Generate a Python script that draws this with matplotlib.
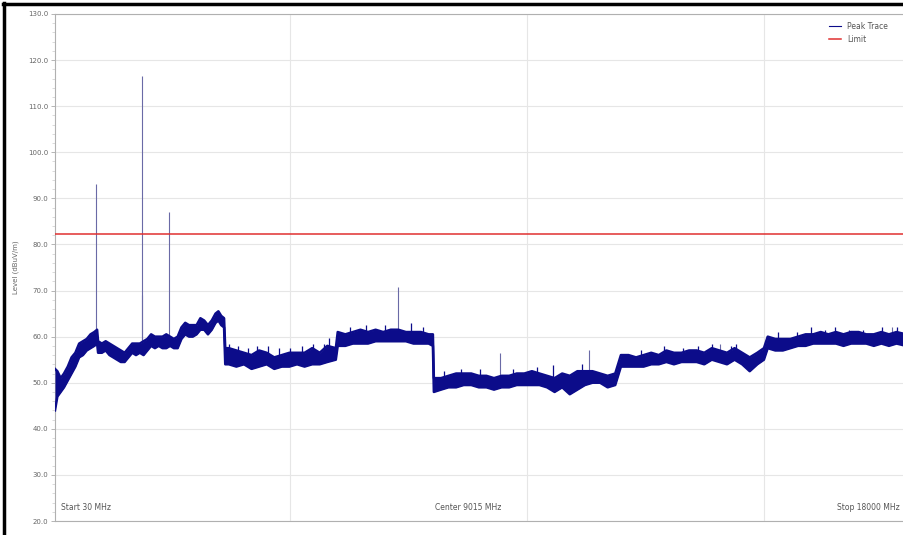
import matplotlib
matplotlib.use("Agg")
import matplotlib.pyplot as plt
from matplotlib.lines import Line2D
from matplotlib.ticker import MultipleLocator, FormatStrFormatter

# peak trace envelope: frequency (MHz), low / high level (dBuV/m)
freq = [30, 80, 150, 220, 300, 380, 460, 540, 620, 700, 780, 860, 919, 940,
        1020, 1100, 1180, 1260, 1340, 1420, 1500, 1580, 1660, 1740, 1820, 1900,
        1980, 2060, 2140, 2220, 2300, 2380, 2460, 2540, 2620, 2700, 2780, 2860,
        2940, 3020, 3100, 3180, 3260, 3340, 3420, 3480, 3540, 3600, 3625,
        3700, 3860, 4020, 4180, 4340, 4500, 4660, 4820, 4980, 5140, 5300, 5460,
        5620, 5780, 5960, 6000, 6160, 6320, 6480, 6640, 6800, 6960, 7120, 7280,
        7440, 7600, 7760, 7920, 8010, 8030, 8180, 8340, 8500, 8660, 8820, 8980,
        9140, 9300, 9460, 9620, 9780, 9940, 10100, 10260, 10420, 10580, 10740,
        10900, 11060, 11220, 11380, 11540, 11700, 11860, 11980, 12140, 12300,
        12460, 12620, 12780, 12940, 13100, 13260, 13420, 13580, 13740, 13900,
        14060, 14220, 14380, 14540, 14700, 14860, 15000, 15080, 15240, 15400,
        15560, 15720, 15880, 16040, 16200, 16360, 16520, 16680, 16840, 17000,
        17160, 17320, 17480, 17640, 17800, 18000]
level_lo = [44, 47, 48, 49, 50.5, 52, 53.5, 55.5, 56, 57, 57.5, 58, 58.5, 56.5,
            56.5, 57, 56, 55.5, 55, 54.5, 54.5, 55.5, 56.5, 56, 56.5, 56,
            57, 58, 57.5, 58, 57.5, 57.5, 58, 57.5, 57.5, 59.5, 60.5, 60,
            60, 60.5, 61.5, 61.5, 60.5, 61.5, 63, 63.5, 62.5, 62, 54,
            54, 53.5, 54, 53, 53.5, 54, 53, 53.5, 53.5, 54, 53.5, 54,
            54, 54.5, 55, 58, 58, 58.5, 58.5, 58.5, 59, 59, 59, 59,
            59, 58.5, 58.5, 58.5, 58, 48, 48.5, 49, 49, 49.5, 49.5, 49,
            49, 48.5, 49, 49, 49.5, 49.5, 49.5, 49.5, 49, 48, 49,
            47.5, 48.5, 49.5, 50, 50, 49, 49.5, 53.5, 53.5, 53.5,
            53.5, 54, 54, 54.5, 54, 54.5, 54.5, 54.5, 54, 55,
            54.5, 54, 55, 54, 52.5, 54, 55, 57.5, 57, 57,
            57.5, 58, 58, 58.5, 58.5, 58.5, 58.5, 58, 58.5, 58.5,
            58.5, 58, 58.5, 58, 58.5, 58]
level_hi = [53, 52.5, 51, 52, 53.5, 55.5, 56.5, 58.5, 59, 59.5, 60.5, 61, 61.5, 59,
            58.5, 59, 58.5, 58, 57.5, 57, 56.5, 57.5, 58.5, 58.5, 58.5, 59,
            59.5, 60.5, 60, 60, 60, 60.5, 60, 59.5, 60, 62, 63, 62.5,
            62.5, 62.5, 64, 63.5, 62.5, 63.5, 65, 65.5, 64.5, 64, 57.5,
            57.5, 57, 56.5, 56, 57, 56.5, 55.5, 56, 56.5, 56.5, 56.5, 57.5,
            56.5, 58, 57.5, 61, 60.5, 61, 61.5, 61, 61.5, 61, 61.5, 61.5,
            61, 61, 61, 60.5, 60.5, 51, 51, 51.5, 52, 52, 52, 51.5,
            51.5, 51, 51.5, 51.5, 52, 52, 52.5, 52, 51.5, 51, 52,
            51.5, 52.5, 52.5, 52.5, 52, 51.5, 52, 56, 56, 55.5,
            56, 56.5, 56, 57, 56.5, 56.5, 57, 57, 56.5, 57.5,
            57, 56.5, 57.5, 56.5, 55.5, 56.5, 57.5, 60, 59.5, 59.5,
            59.5, 60, 60.5, 60.5, 61, 60.5, 61, 60.5, 61, 61,
            60.5, 60.5, 61, 60.5, 61, 60.5]

# short noise hairs on top of the trace (frequency, top level)
hair_freq = [3700, 3900, 4100, 4300, 4520, 4750, 5000, 5250, 5480, 5700, 5810,
             6250, 6600, 7000, 7545, 7800, 8250, 8600, 9000, 9700, 10200, 10550,
             11150, 12400, 12900, 13300, 13600, 13900, 14300, 14400, 15300, 15700,
             16000, 16300, 16500, 16800, 17100, 17500, 17800]
hair_top = [58.5, 58, 57.5, 58, 58, 57.5, 57.5, 58, 58.5, 58.5, 59.6,
            62, 62.5, 62.5, 63, 62, 52.5, 53, 53, 53, 53.5, 53.8,
            54, 57, 58, 57.5, 58, 58.5, 58, 58.5, 61, 61,
            62, 61.5, 62, 61.5, 61.5, 62, 62]

# narrow spurs above the trace
spur_freq = [898, 1871, 1871, 2443, 7269, 9427, 11311, 14063, 17700]
spur_base = [60, 58, 58, 59, 60, 51, 51, 56, 60]
spur_peak = [93.2, 116.6, 69, 87.1, 70.7, 56.5, 57.2, 58.5, 62]

limit = 82.2

fig = plt.figure(figsize=(9.04, 5.35), dpi=100)
ax = fig.add_axes([55/904, 14/535, 851/904, 507/535])

navy = '#0c0c8a'
ax.fill_between(freq, level_lo, level_hi, color=navy, lw=0, zorder=3)
ax.plot(freq, level_hi, color=navy, lw=1.8, zorder=3)
ax.plot(freq, level_lo, color=navy, lw=1.8, zorder=3)
ax.vlines(hair_freq, [t - 2.5 for t in hair_top], hair_top, color=navy, lw=0.9, zorder=3)
ax.vlines(spur_freq, spur_base, spur_peak, color='#6a6aa6', lw=0.8, zorder=2)
ax.axhline(limit, color='#e03030', lw=1.1, zorder=4)

ax.set_xlim(30, 18000)
ax.set_ylim(20, 130)
ax.set_xticks([5000, 10000, 15000])
ax.set_xticklabels([])
ax.tick_params(axis='x', length=0)
ax.yaxis.set_major_locator(MultipleLocator(10))
ax.yaxis.set_minor_locator(MultipleLocator(2))
ax.yaxis.set_major_formatter(FormatStrFormatter('%.1f'))
ax.tick_params(axis='y', which='major', labelsize=5, labelcolor='#666666',
               color='#aaaaaa', length=3, width=0.6, pad=2)
ax.tick_params(axis='y', which='minor', color='#cccccc', length=2, width=0.5)
ax.grid(True, color='#e6e6e6', lw=0.8)
ax.set_axisbelow(True)
for side in ['top', 'left', 'bottom', 'right']:
    ax.spines[side].set_color('#b0b0b0')
    ax.spines[side].set_linewidth(0.8)

ax.set_ylabel('Level (dBuV/m)', fontsize=5, color='#666666', labelpad=6)

ax.text(0.007, 0.018, 'Start 30 MHz', transform=ax.transAxes, fontsize=5.5,
        color='#555555', ha='left', va='bottom')
ax.text(0.485, 0.018, 'Center 9015 MHz', transform=ax.transAxes, fontsize=5.5,
        color='#555555', ha='center', va='bottom')
ax.text(0.993, 0.018, 'Stop 18000 MHz', transform=ax.transAxes, fontsize=5.5,
        color='#555555', ha='right', va='bottom')

handles = [Line2D([], [], color=navy, lw=0.8), Line2D([], [], color='#e03030', lw=1.1)]
ax.legend(handles, ['Peak Trace', 'Limit'], loc='upper right',
          bbox_to_anchor=(0.985, 0.995), frameon=False, fontsize=5.5,
          handlelength=1.6, labelcolor='#555555', borderaxespad=0.3)

# dark frame along top and left edges
fig.add_artist(Line2D([3/904, 1], [1 - 4/535, 1 - 4/535], color='black', lw=2.5))
fig.add_artist(Line2D([4/904, 4/904], [0, 1 - 3/535], color='black', lw=2.5))

fig.savefig('out.png', dpi=100)
